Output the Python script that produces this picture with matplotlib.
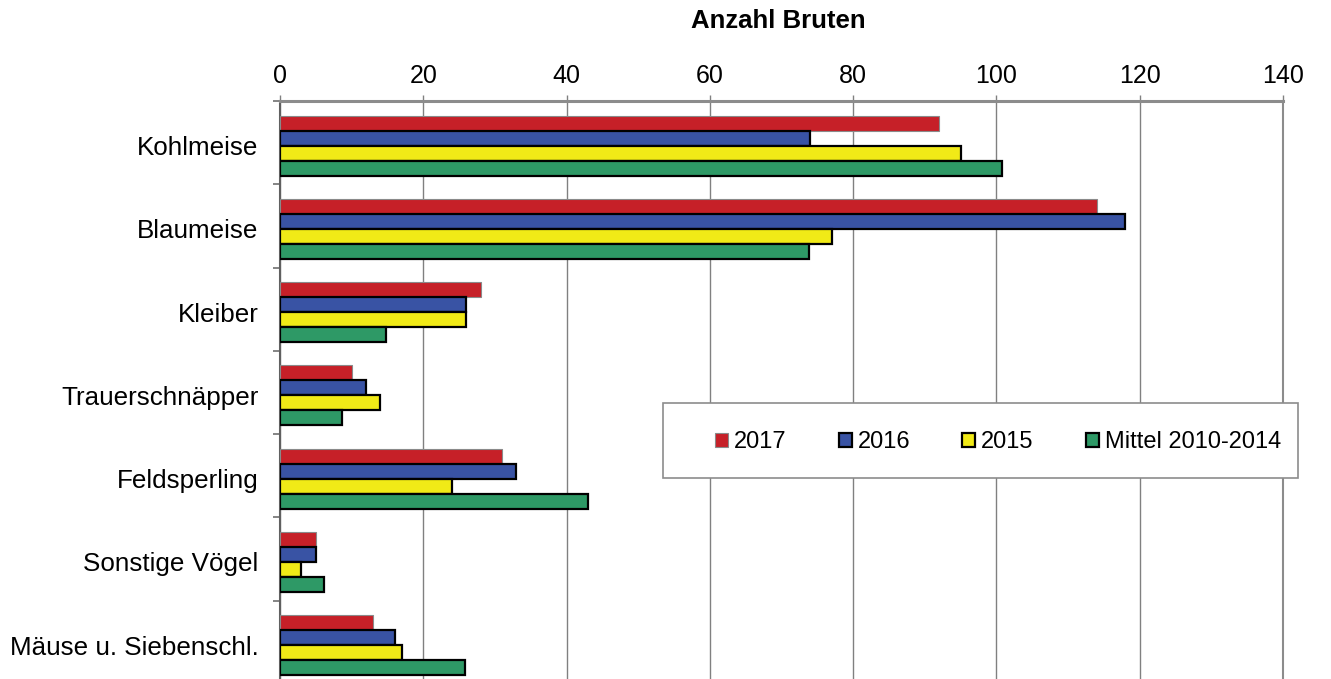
import matplotlib
matplotlib.use("Agg")
import matplotlib.pyplot as plt
from matplotlib.patches import Rectangle, Patch
from matplotlib.ticker import FixedLocator
import numpy as np

plt.rcParams['font.family'] = ['Liberation Sans', 'DejaVu Sans']

categories = ["Kohlmeise", "Blaumeise", "Kleiber", "Trauerschnäpper",
              "Feldsperling", "Sonstige Vögel", "Mäuse u. Siebenschl."]
series_names = ["2017", "2016", "2015", "Mittel 2010-2014"]
v2017 = [92, 114, 28, 10, 31, 5, 13]
v2016 = [74, 118, 26, 12, 33, 5, 16]
v2015 = [95, 77, 26, 14, 24, 3, 17]
vmean = [100.8, 73.8, 14.8, 8.6, 43, 6.2, 25.8]
x_ticks = [0, 20, 40, 60, 80, 100, 120, 140]

colors = ["#C62028", "#3953A4", "#F1EA17", "#2E9966"]
edgecolors = ["#8a8a8a", "black", "black", "black"]
edgewidths = [0.8, 1.6, 1.6, 1.6]

fig = plt.figure(figsize=(13.31, 6.79), dpi=100)
W, H = 1331, 679
left, right, top, bottom = 280, 1283, 101, 684
ax = fig.add_axes([left / W, 1 - bottom / H, (right - left) / W, (bottom - top) / H])

y = np.arange(len(categories))
shift = 0.035
h = 0.18
data = [v2017, v2016, v2015, vmean]
offsets = [-1.5 * h, -0.5 * h, 0.5 * h, 1.5 * h]
for vals, off, c, ec, lw in zip(data, offsets, colors, edgecolors, edgewidths):
    ax.barh(y + off + shift, vals, height=h, color=c, edgecolor=ec, linewidth=lw, zorder=3)

ax.set_xlim(0, 140)
ax.set_ylim(len(categories) - 0.5, -0.5)
ax.xaxis.tick_top()
ax.set_xticks(x_ticks)
ax.set_xticklabels([str(t) for t in x_ticks], fontsize=18)
ax.tick_params(axis='x', which='major', length=4, width=1, color='#808080', pad=5.5, top=True, bottom=False)
ax.grid(axis='x', color='#808080', linewidth=1, zorder=0)
ax.set_yticks(y + shift)
ax.set_yticklabels(categories, fontsize=18.7)
ax.tick_params(axis='y', which='major', length=0, pad=15.5)
ax.yaxis.set_minor_locator(FixedLocator(np.arange(-0.5, len(categories), 1.0)))
ax.tick_params(axis='y', which='minor', length=5, width=1.2, color='#707070')

ax.spines['top'].set_color('#8c8c8c')
ax.spines['top'].set_linewidth(2.2)
ax.spines['right'].set_color('#8c8c8c')
ax.spines['right'].set_linewidth(1.5)
ax.spines['left'].set_color('#606060')
ax.spines['left'].set_linewidth(1.5)
ax.spines['bottom'].set_visible(False)

fig.text(778 / W, 1 - 21 / H, "Anzahl Bruten", fontsize=18.5, fontweight='bold',
         ha='center', va='center')

# legend box
lx0, ly0, lx1, ly1 = 663, 403, 1298, 478
rect = Rectangle((lx0 / W, 1 - ly1 / H), (lx1 - lx0) / W, (ly1 - ly0) / H,
                 transform=fig.transFigure, facecolor='white', edgecolor='#8c8c8c',
                 linewidth=1.2, zorder=4)
fig.add_artist(rect)
handles = [Patch(facecolor=c, edgecolor=ec, linewidth=lw)
           for c, ec, lw in zip(colors, edgecolors, edgewidths)]
fig.legend(handles, series_names, loc='center',
           bbox_to_anchor=(998 / W, 1 - 442 / H),
           ncol=4, frameon=False, fontsize=17, handlelength=0.55, handleheight=0.55,
           handletextpad=0.26, columnspacing=2.2)

fig.savefig("out.png", dpi=100)
